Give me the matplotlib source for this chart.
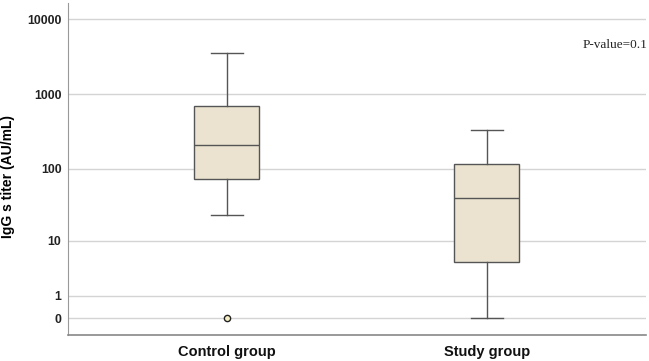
import numpy as np
import matplotlib
matplotlib.use("Agg")
import matplotlib.pyplot as plt

# values (AU/mL)
groups = ["Control group", "Study group"]
whisker_low = [23.4, 0.0]
q1 = [73.0, 4.6]
medians = [208.0, 40.0]
q3 = [701.0, 115.0]
whisker_high = [3530.0, 331.0]
outliers = [[0.0], []]

tick_values = [0, 1, 10, 100, 1000, 10000]
tick_labels = ["0", "1", "10", "100", "1000", "10000"]
p_text = "P-value=0.1"


def fwd(v):
    return np.log10(np.asarray(v, dtype=float) + 1.0)


def inv(v):
    return 10.0 ** np.asarray(v, dtype=float) - 1.0


fig = plt.figure(figsize=(6.49, 3.61), dpi=100)
ax = fig.add_axes([0.1043, 0.072, 0.8906, 0.9197])
ax.set_yscale("function", functions=(fwd, inv))

stats = []
for i, name in enumerate(groups):
    stats.append({
        "label": name,
        "whislo": whisker_low[i],
        "q1": q1[i],
        "med": medians[i],
        "q3": q3[i],
        "whishi": whisker_high[i],
        "fliers": outliers[i],
    })

edge = "#555555"
ax.bxp(stats, positions=[1, 2], widths=0.25, patch_artist=True,
       capwidths=0.123,
       boxprops=dict(facecolor="#ebe3cf", edgecolor=edge, linewidth=1.0),
       medianprops=dict(color=edge, linewidth=1.0),
       whiskerprops=dict(color=edge, linewidth=1.0),
       capprops=dict(color=edge, linewidth=1.0),
       flierprops=dict(marker="o", markersize=4.5, markerfacecolor="#f7efc4",
                       markeredgecolor="#222222", markeredgewidth=1.0),
       zorder=3)

ax.set_xlim(0.388, 2.612)
ax.set_ylim(-0.402, 16630)

ax.set_yticks(tick_values)
ax.set_yticklabels(tick_labels)
ax.yaxis.grid(True, color="#d4d4d4", linewidth=1.0)
ax.set_axisbelow(True)

ax.tick_params(axis="y", length=0, pad=4.5)
ax.tick_params(axis="x", length=0, pad=7)
for lab in ax.get_yticklabels():
    lab.set_fontfamily("Liberation Sans")
    lab.set_fontweight("bold")
    lab.set_fontsize(8.8)
    lab.set_color("#222222")
ax.set_xticks([1, 2])
ax.set_xticklabels(groups, fontfamily="Liberation Sans", fontweight="bold",
                   fontsize=10.5, color="#111111")

ax.set_ylabel("IgG s titer (AU/mL)", fontfamily="Liberation Sans",
              fontweight="bold", fontsize=10)
ax.yaxis.set_label_coords(-0.091, 0.477)

for side in ["top", "right"]:
    ax.spines[side].set_visible(False)
ax.spines["left"].set_color("#999999")
ax.spines["bottom"].set_color("#888888")
ax.spines["bottom"].set_linewidth(1.2)

fig.text(0.997, 0.876, p_text, fontfamily="Liberation Serif", fontsize=9.5,
         ha="right", va="center", color="#222222")

fig.savefig("out.png", dpi=100)
